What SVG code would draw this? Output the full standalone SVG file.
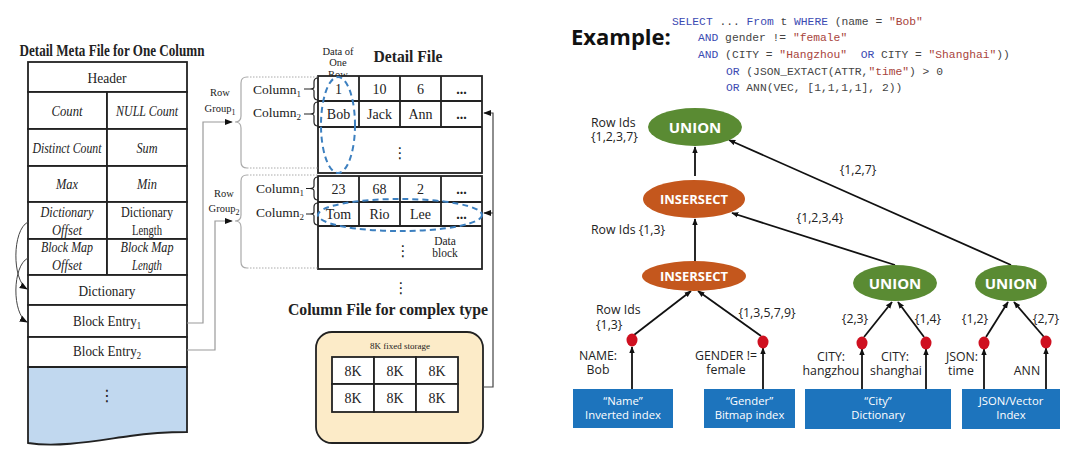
<svg xmlns="http://www.w3.org/2000/svg" width="1080" height="463" viewBox="0 0 1080 463">
<defs>
<style>
.cell{fill:#fff;stroke:#222;stroke-width:1.8}
.t{font-family:"Liberation Serif","Times New Roman",serif;font-size:14.5px;fill:#222;text-anchor:middle}
.l{text-anchor:start}
.ti{font-style:italic}
.tb{font-weight:bold}
.d{font-size:14px}
.sm{font-size:10.5px}
.gray{fill:none;stroke:#9a9a9a;stroke-width:1.2}
.brace{fill:none;stroke:#aaa;stroke-width:1.2}
.dotl{fill:none;stroke:#aaa;stroke-width:1;stroke-dasharray:1.5,1.5}
.sb{fill:none;stroke:#222;stroke-width:1.2}
.dash{fill:none;stroke:#3d80c0;stroke-width:2;stroke-dasharray:6,4}
.code{font-family:"Liberation Mono","DejaVu Sans Mono",monospace;font-size:11.3px;fill:#444;white-space:pre}
.kw{fill:#3b4ab2}
.str{fill:#a8443c}
.s{font-family:"Open Sans","Noto Sans",sans-serif;font-size:12.3px;fill:#222}
.c{text-anchor:middle}
.nt{font-family:"Open Sans","Noto Sans",sans-serif;font-weight:bold;fill:#fff;text-anchor:middle}
.box{fill:#1d74bd}
.bt{font-family:"Open Sans","Noto Sans",sans-serif;font-size:11.3px;fill:#fff;text-anchor:middle}
.edge{stroke:#111;stroke-width:1.8;fill:none;marker-end:url(#ah)}
.rdot{fill:#cf1020}
.green{fill:#5a8b33}
.orange{fill:#c4571d}
.vd{font-family:"DejaVu Sans",sans-serif;font-size:15px;fill:#222;text-anchor:middle}
</style>
<marker id="ah" viewBox="0 0 10 10" refX="9" refY="5" markerWidth="7" markerHeight="7" markerUnits="userSpaceOnUse" orient="auto"><path d="M0,1 L10,5 L0,9 z" fill="#111"/></marker>
<marker id="ahs" viewBox="0 0 10 10" refX="9" refY="5" markerWidth="8" markerHeight="8" markerUnits="userSpaceOnUse" orient="auto"><path d="M0,1 L10,5 L0,9 z" fill="#111"/></marker>
</defs>
<rect width="1080" height="463" fill="#fff"/>

<!-- LEFT: Detail Meta File -->
<g id="meta-file">
<text class="t tb" x="112" y="56" style="font-size:16.5px" textLength="185" lengthAdjust="spacingAndGlyphs">Detail Meta File for One Column</text>
<rect class="cell" x="28" y="62" width="159" height="30"/>
<rect class="cell" x="28" y="92" width="79" height="37"/><rect class="cell" x="107" y="92" width="80" height="37"/>
<rect class="cell" x="28" y="129" width="79" height="37"/><rect class="cell" x="107" y="129" width="80" height="37"/>
<rect class="cell" x="28" y="166" width="79" height="36"/><rect class="cell" x="107" y="166" width="80" height="36"/>
<rect class="cell" x="28" y="202" width="79" height="37"/><rect class="cell" x="107" y="202" width="80" height="37"/>
<rect class="cell" x="28" y="239" width="79" height="36"/><rect class="cell" x="107" y="239" width="80" height="36"/>
<rect class="cell" x="28" y="275" width="159" height="30"/>
<rect class="cell" x="28" y="305" width="159" height="32"/>
<rect class="cell" x="28" y="337" width="159" height="30"/>
<path d="M28,367 H187 V432 C170,432 150,433 130,436 C100,440 60,448 28,443 Z" fill="#c1d8ef" stroke="#222" stroke-width="1.8"/>
<text class="t" x="107" y="83" textLength="39" lengthAdjust="spacingAndGlyphs">Header</text>
<text class="t ti" x="67" y="116" textLength="31" lengthAdjust="spacingAndGlyphs">Count</text>
<text class="t ti" x="147" y="116" textLength="62" lengthAdjust="spacingAndGlyphs">NULL Count</text>
<text class="t ti" x="67" y="153" textLength="69" lengthAdjust="spacingAndGlyphs">Distinct Count</text>
<text class="t ti" x="147" y="153" textLength="21" lengthAdjust="spacingAndGlyphs">Sum</text>
<text class="t ti" x="67" y="189" textLength="22" lengthAdjust="spacingAndGlyphs">Max</text>
<text class="t ti" x="147" y="189" textLength="20" lengthAdjust="spacingAndGlyphs">Min</text>
<text class="t ti" x="67" y="217" textLength="53" lengthAdjust="spacingAndGlyphs">Dictionary</text>
<text class="t ti" x="67" y="235" textLength="30" lengthAdjust="spacingAndGlyphs">Offset</text>
<text class="t" x="147" y="217" textLength="52" lengthAdjust="spacingAndGlyphs">Dictionary</text>
<text class="t" x="147" y="235" textLength="30" lengthAdjust="spacingAndGlyphs">Length</text>
<text class="t ti" x="67" y="252" textLength="52" lengthAdjust="spacingAndGlyphs">Block Map</text>
<text class="t ti" x="67" y="270" textLength="30" lengthAdjust="spacingAndGlyphs">Offset</text>
<text class="t ti" x="147" y="252" textLength="53" lengthAdjust="spacingAndGlyphs">Block Map</text>
<text class="t ti" x="147" y="270" textLength="30" lengthAdjust="spacingAndGlyphs">Length</text>
<text class="t" x="107" y="296" textLength="57" lengthAdjust="spacingAndGlyphs">Dictionary</text>
<text class="t" x="107" y="326" textLength="68" lengthAdjust="spacingAndGlyphs">Block Entry<tspan font-size="9.5" dy="3">1</tspan></text>
<text class="t" x="107" y="356" textLength="68" lengthAdjust="spacingAndGlyphs">Block Entry<tspan font-size="9.5" dy="3">2</tspan></text>
<text class="vd" x="107" y="401" style="font-size:16px">⋮</text>
</g>

<!-- MIDDLE: Detail File -->
<g id="detail-file">
<text class="t sm" x="338" y="55">Data of</text>
<text class="t sm" x="338" y="66">One</text>
<text class="t sm" x="338" y="78">Row</text>
<text class="t tb" x="408" y="62" style="font-size:16.5px" textLength="69" lengthAdjust="spacingAndGlyphs">Detail File</text>
<rect class="cell" x="318" y="76" width="164" height="97"/>
<path d="M318,101 H482 M318,127 H482 M359,76 V127 M400,76 V127 M441,76 V127" stroke="#222" stroke-width="1.8"/>
<rect class="cell" x="318" y="176" width="164" height="93"/>
<path d="M318,202 H482 M318,226 H482 M359,176 V226 M400,176 V226 M441,176 V226" stroke="#222" stroke-width="1.8"/>
<text class="t d" x="338.5" y="93.5">1</text><text class="t d" x="379.5" y="93.5">10</text><text class="t d" x="420.5" y="93.5">6</text><text class="t d tb" x="461.5" y="93.5">...</text>
<text class="t d" x="338.5" y="119">Bob</text><text class="t d" x="379.5" y="119">Jack</text><text class="t d" x="420.5" y="119">Ann</text><text class="t d tb" x="461.5" y="119">...</text>
<text class="vd" x="400" y="158">⋮</text>
<text class="t d" x="338.5" y="193.5">23</text><text class="t d" x="379.5" y="193.5">68</text><text class="t d" x="420.5" y="193.5">2</text><text class="t d tb" x="461.5" y="193.5">...</text>
<text class="t d" x="338.5" y="219">Tom</text><text class="t d" x="379.5" y="219">Rio</text><text class="t d" x="420.5" y="219">Lee</text><text class="t d tb" x="461.5" y="219">...</text>
<text class="vd" x="403" y="256">⋮</text>
<text class="t" x="445" y="245" style="font-size:11.5px">Data</text>
<text class="t" x="445" y="257" style="font-size:11.5px">block</text>
<ellipse class="dash" cx="338" cy="125" rx="17" ry="48"/>
<ellipse class="dash" cx="400" cy="215" rx="82" ry="16"/>
<text class="vd" x="401" y="293">⋮</text>
</g>

<g id="row-groups">
<text class="t sm" x="220" y="96">Row</text>
<text class="t sm" x="220" y="112">Group<tspan font-size="8" dy="2.5">1</tspan></text>
<text class="t sm" x="224" y="197">Row</text>
<text class="t sm" x="224" y="212">Group<tspan font-size="8" dy="2.5">2</tspan></text>
<path class="brace" d="M247,77 Q241,77 241,83 V116 Q241,122 235,122 Q241,122 241,128 V162 Q241,168 247,168"/>
<path class="dotl" d="M247,77 H318 M247,168 H318"/>
<path class="brace" d="M247,175 Q241,175 241,181 V215 Q241,221 235,221 Q241,221 241,227 V262 Q241,268 247,268"/>
<path class="dotl" d="M247,175 H318 M247,268 H318"/>
<text class="t l" x="253" y="94" style="font-size:13.5px">Column<tspan font-size="9" dy="3">1</tspan></text>
<text class="t l" x="253" y="117" style="font-size:13.5px">Column<tspan font-size="9" dy="3">2</tspan></text>
<text class="t l" x="256" y="193" style="font-size:13.5px">Column<tspan font-size="9" dy="3">1</tspan></text>
<text class="t l" x="256" y="217" style="font-size:13.5px">Column<tspan font-size="9" dy="3">2</tspan></text>
<path class="sb" d="M318,78 Q314,78 314,82 V87 Q314,89 310,89 Q314,89 314,91 V96 Q314,100 318,100 M304,89 H310"/>
<path class="sb" d="M318,102 Q314,102 314,106 V112 Q314,114 310,114 Q314,114 314,116 V122 Q314,126 318,126 M304,114 H310"/>
<path class="sb" d="M318,177 Q314,177 314,181 V186 Q314,188.5 310,188.5 Q314,188.5 314,191 V196 Q314,200 318,200 M306,188.5 H310"/>
<path class="sb" d="M318,203 Q314,203 314,207 V212 Q314,214 310,214 Q314,214 314,216 V221 Q314,225 318,225 M306,214 H310"/>
</g>

<g id="complex-column-file">
<text class="t tb" x="388" y="315" style="font-size:17.5px" textLength="200" lengthAdjust="spacingAndGlyphs">Column File for complex type</text>
<rect x="316" y="332" width="167" height="111" rx="16" fill="#fcebc8" stroke="#222" stroke-width="1.8"/>
<text class="t" x="400" y="349" style="font-size:9px">8K fixed storage</text>
<rect class="cell" x="332" y="357" width="42" height="27"/><rect class="cell" x="374" y="357" width="42" height="27"/><rect class="cell" x="416" y="357" width="42" height="27"/>
<rect class="cell" x="332" y="384" width="42" height="28"/><rect class="cell" x="374" y="384" width="42" height="28"/><rect class="cell" x="416" y="384" width="42" height="28"/>
<text class="t d" x="353" y="375.5">8K</text><text class="t d" x="395" y="375.5">8K</text><text class="t d" x="437" y="375.5">8K</text>
<text class="t d" x="353" y="403">8K</text><text class="t d" x="395" y="403">8K</text><text class="t d" x="437" y="403">8K</text>
</g>

<g id="left-connectors">
<path d="M28,222 C12,230 12,280 27,289" fill="none" stroke="#444" stroke-width="1" marker-end="url(#ahs)"/>
<path d="M28,258 C12,266 12,314 27,322" fill="none" stroke="#444" stroke-width="1" marker-end="url(#ahs)"/>
<path class="gray" d="M187,323 H203 V122 H232" marker-end="url(#ahs)"/>
<path class="gray" d="M187,350 H215 V221 H232" marker-end="url(#ahs)"/>
<path d="M483,387 H493 V113 H484" fill="none" stroke="#444" stroke-width="1.2" marker-end="url(#ahs)"/>
<path d="M493,213 H484" fill="none" stroke="#444" stroke-width="1.2" marker-end="url(#ahs)"/>
</g>

<!-- RIGHT: Example -->
<g id="example">
<text x="571" y="45" font-family="Open Sans,Noto Sans,sans-serif" font-weight="bold" font-size="22" fill="#111">Example:</text>
<text class="code" x="672" y="25"><tspan class="kw">SELECT</tspan> ... <tspan class="kw">From</tspan> t <tspan class="kw">WHERE</tspan> (name = <tspan class="str">"Bob"</tspan></text>
<text class="code" x="698" y="41"><tspan class="kw">AND</tspan> gender != <tspan class="str">"female"</tspan></text>
<text class="code" x="698" y="58"><tspan class="kw">AND</tspan> (CITY = <tspan class="str">"Hangzhou"</tspan>  <tspan class="kw">OR</tspan> CITY = <tspan class="str">"Shanghai"</tspan>))</text>
<text class="code" x="726" y="75"><tspan class="kw">OR</tspan> (JSON_EXTACT(ATTR,<tspan class="str">"time"</tspan>) &gt; 0</text>
<text class="code" x="726" y="91"><tspan class="kw">OR</tspan> ANN(VEC, [1,1,1,1], 2))</text>
</g>

<g id="tree-edges">
<path class="edge" d="M695,176 V147"/>
<path class="edge" d="M695,262 V219"/>
<path class="edge" d="M634,335 L691,291"/>
<path class="edge" d="M761,336 L698,291"/>
<path class="edge" d="M632,389 V347"/>
<path class="edge" d="M763,389 V348"/>
<path class="edge" d="M862,389 V349"/>
<path class="edge" d="M926,389 V349"/>
<path class="edge" d="M984,389 V349"/>
<path class="edge" d="M1046,389 V348"/>
<path class="edge" d="M864,337 L892,302"/>
<path class="edge" d="M924,337 L898,302"/>
<path class="edge" d="M986,337 L1008,302"/>
<path class="edge" d="M1044,337 L1014,302"/>
<path class="edge" d="M895,265 L732,213"/>
<path class="edge" d="M1011,265 L729,140"/>
</g>

<g id="union-top"><ellipse class="green" cx="695" cy="127" rx="47" ry="19"/><text class="nt" x="695" y="132.5" font-size="15">UNION</text></g>
<g id="intersect-1"><ellipse class="orange" cx="694" cy="199" rx="51" ry="19"/><text class="nt" x="694" y="204" font-size="13">INSERSECT</text></g>
<g id="intersect-2"><ellipse class="orange" cx="694" cy="276" rx="52" ry="15"/><text class="nt" x="694" y="281" font-size="13">INSERSECT</text></g>
<g id="union-city"><ellipse class="green" cx="895" cy="283" rx="42" ry="18"/><text class="nt" x="895" y="288.5" font-size="15">UNION</text></g>
<g id="union-json"><ellipse class="green" cx="1011" cy="283" rx="36" ry="18"/><text class="nt" x="1011" y="288.5" font-size="15">UNION</text></g>

<g id="pred-dots">
<ellipse class="rdot" cx="632" cy="340" rx="5.5" ry="6.5"/>
<ellipse class="rdot" cx="763" cy="342" rx="5.5" ry="6.5"/>
<ellipse class="rdot" cx="862" cy="343" rx="5.5" ry="6.5"/>
<ellipse class="rdot" cx="926" cy="343" rx="5.5" ry="6.5"/>
<ellipse class="rdot" cx="984" cy="343" rx="5.5" ry="6.5"/>
<ellipse class="rdot" cx="1046" cy="342" rx="5.5" ry="6.5"/>
</g>

<g id="tree-labels">
<text class="s" x="591" y="127">Row Ids</text>
<text class="s" x="591" y="141">{1,2,3,7}</text>
<text class="s" x="591" y="234">Row Ids {1,3}</text>
<text class="s c" x="858" y="174">{1,2,7}</text>
<text class="s c" x="820" y="222">{1,2,3,4}</text>
<text class="s" x="596" y="314">Row Ids</text>
<text class="s" x="596" y="329">{1,3}</text>
<text class="s c" x="767" y="317">{1,3,5,7,9}</text>
<text class="s c" x="598" y="360">NAME:</text>
<text class="s c" x="598" y="374">Bob</text>
<text class="s c" x="726" y="360">GENDER !=</text>
<text class="s c" x="726" y="374">female</text>
<text class="s c" x="855" y="323">{2,3}</text>
<text class="s c" x="928" y="323">{1,4}</text>
<text class="s c" x="975" y="323">{1,2}</text>
<text class="s c" x="1046" y="323">{2,7}</text>
<text class="s c" x="831" y="361">CITY:</text>
<text class="s c" x="831" y="375">hangzhou</text>
<text class="s c" x="895" y="361">CITY:</text>
<text class="s c" x="896" y="375">shanghai</text>
<text class="s c" x="962" y="361">JSON:</text>
<text class="s c" x="961" y="375">time</text>
<text class="s c" x="1027" y="375">ANN</text>
</g>

<g id="index-name"><rect class="box" x="573" y="389" width="100" height="39"/><text class="bt" x="623" y="405">“Name”</text><text class="bt" x="623" y="418.5">Inverted index</text></g>
<g id="index-gender"><rect class="box" x="704" y="389" width="91" height="39"/><text class="bt" x="749.5" y="405">“Gender”</text><text class="bt" x="749.5" y="418.5">Bitmap index</text></g>
<g id="index-city"><rect class="box" x="805" y="389" width="146" height="40"/><text class="bt" x="878" y="405">“City”</text><text class="bt" x="878" y="418.5">Dictionary</text></g>
<g id="index-json"><rect class="box" x="962" y="389" width="98" height="40"/><text class="bt" x="1011" y="405">JSON/Vector</text><text class="bt" x="1011" y="418.5">Index</text></g>
</svg>
